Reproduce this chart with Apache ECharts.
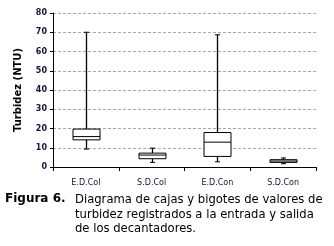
<!DOCTYPE html>
<html>
<head>
<meta charset="utf-8">
<script src="https://cdn.jsdelivr.net/npm/echarts@6/dist/echarts.min.js"></script>
<style>
  html, body { margin: 0; padding: 0; background: #fff; }
  #chart { width: 334px; height: 246px; }
</style>
</head>
<body>
<div id="chart"></div>
<script>
// data: [min, Q1, median, Q3, max]
const categories = ["E.D.Col", "S.D.Col", "E.D.Con", "S.D.Con"];
const edCol = [9.3, 14.1, 15.8, 19.7, 70];
const sdCol = [2.4, 4.3, 6.2, 7.2, 9.8];
const edCon = [2.7, 5.5, 12.9, 17.9, 68.7];
const sdCon = [1.7, 2.4, 3.1, 3.8, 4.7];
const yTicks = [0, 10, 20, 30, 40, 50, 60, 70, 80];

const font = "DejaVu Sans, Verdana, sans-serif";
const boxW = 27;
const capW = 5;

const chart = echarts.init(document.getElementById("chart"), null, { renderer: "canvas" });

function renderBox(params, api) {
  const i = api.value(0);
  const lo = api.coord([i, api.value(1)]);
  const q1 = api.coord([i, api.value(2)]);
  const med = api.coord([i, api.value(3)]);
  const q3 = api.coord([i, api.value(4)]);
  const hi = api.coord([i, api.value(5)]);
  const x = Math.round(lo[0]) + 0.5;
  const line = { stroke: "#000", lineWidth: 1 };
  return {
    type: "group",
    children: [
      { type: "line", shape: { x1: x, y1: hi[1], x2: x, y2: q3[1] }, style: { stroke: "#000", lineWidth: 1.3 } },
      { type: "line", shape: { x1: x, y1: q1[1], x2: x, y2: lo[1] }, style: { stroke: "#000", lineWidth: 1.3 } },
      { type: "line", shape: { x1: x - capW / 2, y1: hi[1], x2: x + capW / 2, y2: hi[1] }, style: line },
      { type: "line", shape: { x1: x - capW / 2, y1: lo[1], x2: x + capW / 2, y2: lo[1] }, style: line },
      {
        type: "rect",
        shape: { x: x - boxW / 2, y: q3[1], width: boxW, height: q1[1] - q3[1] },
        style: { fill: "#fff", stroke: "#000", lineWidth: 1 }
      },
      { type: "line", shape: { x1: x - boxW / 2, y1: med[1], x2: x + boxW / 2, y2: med[1] }, style: line }
    ]
  };
}

chart.setOption({
  animation: false,
  grid: { left: 53, right: 18, top: 13, bottom: 79 },
  xAxis: {
    type: "category",
    data: categories,
    boundaryGap: true,
    axisLine: { lineStyle: { color: "#000", width: 1 } },
    axisTick: { show: true, length: 4, lineStyle: { color: "#000" } },
    axisLabel: { color: "#14143c", fontFamily: font, fontSize: 8, margin: 12 },
    splitLine: { show: false }
  },
  yAxis: {
    type: "value",
    min: yTicks[0],
    max: yTicks[yTicks.length - 1],
    interval: 10,
    name: "Turbidez (NTU)",
    nameLocation: "middle",
    nameGap: 30,
    nameTextStyle: { fontFamily: font, fontSize: 10, fontWeight: "bold", color: "#000" },
    axisLine: { show: true, lineStyle: { color: "#000", width: 1 } },
    axisTick: { show: true, length: 3, lineStyle: { color: "#000" } },
    axisLabel: { color: "#14143c", fontFamily: font, fontSize: 8, fontWeight: "bold", margin: 6 },
    splitLine: { show: true, lineStyle: { color: "#a8a8a8", type: [3, 2], width: 1 } }
  },
  series: [
    {
      type: "custom",
      renderItem: renderBox,
      encode: { x: 0, y: [1, 2, 3, 4, 5] },
      data: [edCol, sdCol, edCon, sdCon].map((d, i) => [i].concat(d))
    }
  ],
  graphic: [
    {
      type: "text",
      left: 5,
      top: 193,
      style: { text: "Figura 6.", font: "bold 12px " + font, fill: "#000" }
    },
    {
      type: "text",
      left: 75,
      top: 193,
      style: {
        text: "Diagrama de cajas y bigotes de valores de\nturbidez registrados a la entrada y salida\nde los decantadores.",
        font: "11.6px " + font,
        lineHeight: 14.5,
        fill: "#000"
      }
    }
  ]
});
</script>
</body>
</html>
